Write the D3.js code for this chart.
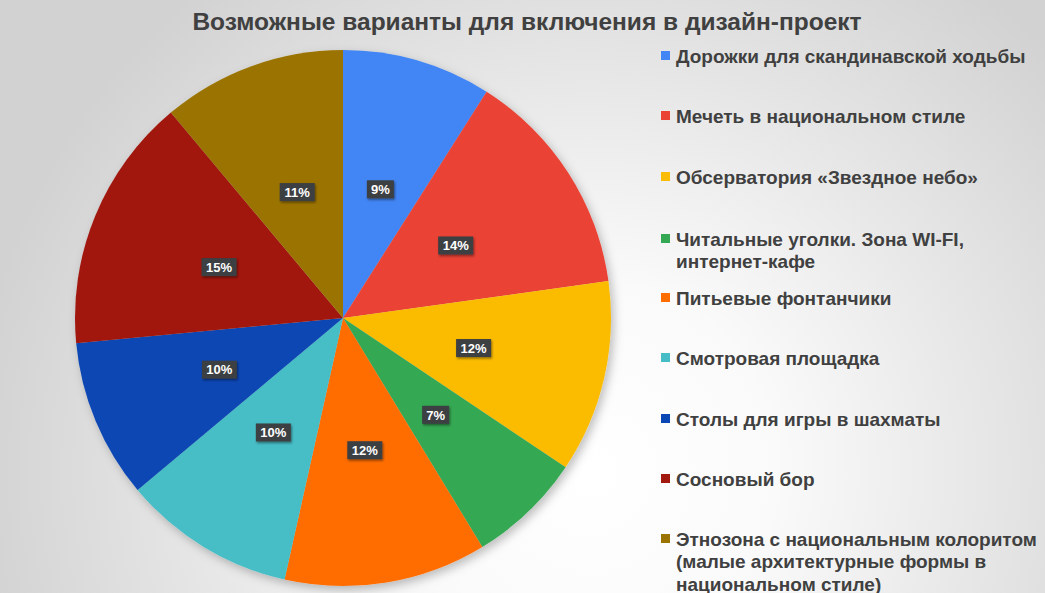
<!DOCTYPE html>
<html><head><meta charset="utf-8">
<script src="https://cdn.jsdelivr.net/npm/d3@7"></script>
<style>html,body{margin:0;padding:0;overflow:hidden;background:#fff}</style>
</head><body>
<svg id="chart" width="1045" height="593"></svg>
<script>
const title = "Возможные варианты для включения в дизайн-проект";
const categories = [
  ["Дорожки для скандинавской ходьбы"],
  ["Мечеть в национальном стиле"],
  ["Обсерватория «Звездное небо»"],
  ["Читальные уголки. Зона WI-FI,", "интернет-кафе"],
  ["Питьевые фонтанчики"],
  ["Смотровая площадка"],
  ["Столы для игры в шахматы"],
  ["Сосновый бор"],
  ["Этнозона с национальным колоритом", "(малые архитектурные формы в", "национальном стиле)"]
];
// shares (%); labels show rounded values
const values = [9.0, 13.8, 11.6, 6.9, 12.2, 10.4, 9.6, 15.4, 11.1];
const colors = ["#4285F4", "#EA4335", "#FBBC04", "#34A853", "#FF6D01", "#46BDC6", "#0B47B4", "#A1190F", "#9B7300"];

const svg = d3.select("#chart");
const W = 1045, H = 593;
const defs = svg.append("defs");
const bg = defs.append("radialGradient").attr("id", "bg")
  .attr("gradientUnits", "userSpaceOnUse")
  .attr("cx", 590).attr("cy", 470).attr("r", 620);
bg.append("stop").attr("offset", "0").attr("stop-color", "#ffffff");
bg.append("stop").attr("offset", "0.3").attr("stop-color", "#fafafa");
bg.append("stop").attr("offset", "1").attr("stop-color", "#d2d2d2");
svg.append("rect").attr("width", W).attr("height", H).attr("fill", "url(#bg)");

const sh = defs.append("filter").attr("id", "pieShadow").attr("x", "-20%").attr("y", "-20%").attr("width", "140%").attr("height", "140%");
sh.append("feDropShadow").attr("dx", 3).attr("dy", 4).attr("stdDeviation", 5).attr("flood-color", "#000").attr("flood-opacity", 0.25);
const lsh = defs.append("filter").attr("id", "lblShadow").attr("x", "-30%").attr("y", "-30%").attr("width", "160%").attr("height", "160%");
lsh.append("feDropShadow").attr("dx", 1).attr("dy", 1.5).attr("stdDeviation", 1.2).attr("flood-color", "#000").attr("flood-opacity", 0.45);

svg.append("text").attr("x", 527).attr("y", 30).attr("text-anchor", "middle")
  .attr("font-family", "Liberation Sans, Arial, sans-serif").attr("font-weight", "bold")
  .attr("font-size", 24.5).attr("fill", "#404040").text(title);

const cx = 343, cy = 318, R = 268;
const pie = d3.pie().sort(null).value(d => d)(values);
const arc = d3.arc().innerRadius(0).outerRadius(R);
const labelArc = d3.arc().innerRadius(R * 0.5).outerRadius(R * 0.5);
const g = svg.append("g").attr("transform", `translate(${cx},${cy})`);
g.append("g").attr("filter", "url(#pieShadow)").selectAll("path").data(pie).join("path")
  .attr("d", arc).attr("fill", (d, i) => colors[i]);

const lbl = d => Math.round(d.data) + "%";
const lg = g.selectAll("g.lbl").data(pie).join("g").attr("class", "lbl")
  .attr("transform", d => `translate(${labelArc.centroid(d)})`);
lg.append("rect")
  .attr("x", d => -(String(Math.round(d.data)).length * 8 + 19) / 2)
  .attr("y", -9).attr("height", 18)
  .attr("width", d => String(Math.round(d.data)).length * 8 + 19)
  .attr("fill", "#3d3f42").attr("filter", "url(#lblShadow)");
lg.append("text").attr("text-anchor", "middle").attr("dy", "0.36em")
  .attr("font-family", "Liberation Sans, Arial, sans-serif").attr("font-weight", "bold")
  .attr("font-size", 13).attr("fill", "#fff").text(lbl);

const legendY = [56, 116, 177, 239, 298, 358, 419, 479, 539];
const leg = svg.append("g");
categories.forEach((lines, i) => {
  const it = leg.append("g").attr("transform", `translate(661,${legendY[i]})`);
  it.append("rect").attr("x", 0).attr("y", -5).attr("width", 9).attr("height", 9).attr("fill", colors[i]);
  const t = it.append("text").attr("x", 15).attr("y", 0)
    .attr("font-family", "Liberation Sans, Arial, sans-serif").attr("font-weight", "bold")
    .attr("font-size", 19).attr("fill", "#404040");
  lines.forEach((l, j) => t.append("tspan").attr("x", 15).attr("dy", j === 0 ? "0.35em" : 22.5).text(l));
});
</script>
</body></html>
